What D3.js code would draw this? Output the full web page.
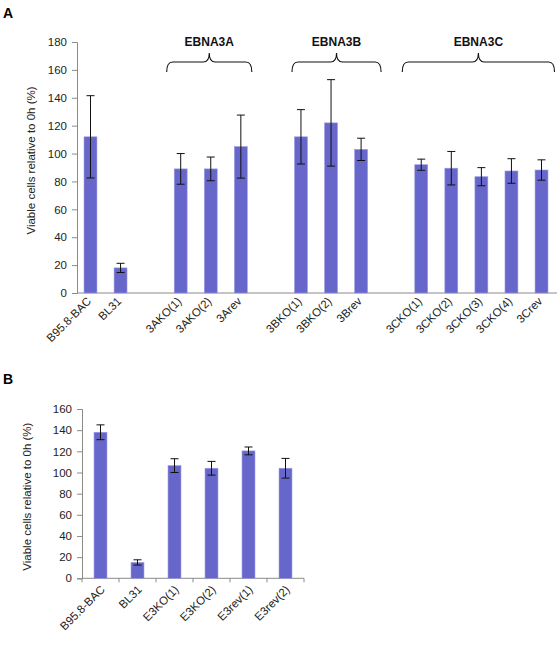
<!DOCTYPE html>
<html><head><meta charset="utf-8">
<script src="https://cdn.jsdelivr.net/npm/d3@7"></script>
<style>body{margin:0;background:#fff}svg{display:block;font-family:"Liberation Sans",Arial,sans-serif}</style>
</head><body>
<svg id="c" width="560" height="650"></svg>
<script>
// Panel A data
const catsA = ["B95.8-BAC","BL31","gap1","3AKO(1)","3AKO(2)","3Arev","gap2","3BKO(1)","3BKO(2)","3Brev","gap3","3CKO(1)","3CKO(2)","3CKO(3)","3CKO(4)","3Crev"];
const valsA = [112,18,null,89,89,105,null,112,122,103,null,92,89.5,83.4,87.5,88.2];
const errA  = [29.5,3.3,null,11,8.5,22.6,null,19.5,31,8,null,4,12,6.5,8.8,7.3];
const groupsA = [
  {label:"EBNA3A", first:"3AKO(1)", last:"3Arev"},
  {label:"EBNA3B", first:"3BKO(1)", last:"3Brev"},
  {label:"EBNA3C", first:"3CKO(1)", last:"3Crev"}
];
const ticksA = [0,20,40,60,80,100,120,140,160,180];
// Panel B data
const catsB = ["B95.8-BAC","BL31","E3KO(1)","E3KO(2)","E3rev(1)","E3rev(2)"];
const valsB = [138,15,106.5,104,120.4,104];
const errB  = [7,2.5,6.5,6.5,3.7,9.3];
const ticksB = [0,20,40,60,80,100,120,140,160];
const yLabel = "Viable cells relative to 0h (%)";

const svg = d3.select("#c");
const barFill = "#6767cb", barEdge = "#9c9ce2", axisCol = "#8a8a8a";
const fs = 11.5;

// ---------- Panel A ----------
const xA = d3.scaleBand().domain(catsA).range([75,557]).paddingInner(0.57).paddingOuter(0.3);
const yA = d3.scaleLinear().domain([0,180]).range([293,42]);
const gA = svg.append("g");
gA.append("text").attr("x",3).attr("y",18).attr("font-size",14).attr("font-weight","bold").text("A");
const axA = gA.append("g").attr("transform","translate(77,0)")
  .call(d3.axisLeft(yA).tickValues(ticksA).tickSize(5).tickPadding(5));
axA.select(".domain").attr("stroke",axisCol);
axA.selectAll(".tick line").attr("stroke",axisCol);
axA.selectAll("text").attr("font-size",fs).attr("fill","#222").attr("font-family","Liberation Sans, Arial");
gA.append("line").attr("x1",77).attr("x2",557).attr("y1",yA(0)).attr("y2",yA(0)).attr("stroke",axisCol);
gA.append("text").attr("transform",`translate(35,${(yA(0)+yA(180))/2-7}) rotate(-90)`)
  .attr("text-anchor","middle").attr("font-size",fs).attr("fill","#222").text(yLabel);

const dA = catsA.map((c,i)=>({c,v:valsA[i],e:errA[i]})).filter(d=>d.v!==null);
gA.selectAll("rect.bar").data(dA).join("rect").attr("class","bar")
  .attr("x",d=>xA(d.c)).attr("width",xA.bandwidth())
  .attr("y",d=>yA(d.v)).attr("height",d=>yA(0)-yA(d.v))
  .attr("fill",barFill).attr("stroke",barEdge).attr("stroke-width",0.6);
function errBars(g,data,x,y){
  const cap=4;
  const eg=g.selectAll("g.err").data(data).join("g").attr("class","err").attr("stroke","#111").attr("stroke-width",1);
  eg.append("line").attr("x1",d=>x(d.c)+x.bandwidth()/2).attr("x2",d=>x(d.c)+x.bandwidth()/2)
    .attr("y1",d=>y(d.v+d.e)).attr("y2",d=>y(d.v-d.e));
  eg.append("line").attr("x1",d=>x(d.c)+x.bandwidth()/2-cap).attr("x2",d=>x(d.c)+x.bandwidth()/2+cap)
    .attr("y1",d=>y(d.v+d.e)).attr("y2",d=>y(d.v+d.e));
  eg.append("line").attr("x1",d=>x(d.c)+x.bandwidth()/2-cap).attr("x2",d=>x(d.c)+x.bandwidth()/2+cap)
    .attr("y1",d=>y(d.v-d.e)).attr("y2",d=>y(d.v-d.e));
}
errBars(gA,dA,xA,yA);
gA.selectAll("text.xl").data(dA).join("text").attr("class","xl")
  .attr("transform",d=>`translate(${xA(d.c)+xA.bandwidth()/2+1.5},${yA(0)+9}) rotate(-45)`)
  .attr("text-anchor","end").attr("font-size",fs).attr("fill","#222").text(d=>d.c);

// braces
const bracePad = [[-14,11],[-9,20],[-19,13]];
groupsA.forEach((g,i)=>{
  const x1 = xA(g.first)+xA.bandwidth()/2+bracePad[i][0];
  const x2 = xA(g.last)+xA.bandwidth()/2+bracePad[i][1];
  const cx = (x1+x2)/2, yTip=53, yMid=62, yEnd=72, r=6;
  const p = `M${x1},${yEnd} Q${x1},${yMid} ${x1+r},${yMid} L${cx-r},${yMid} Q${cx},${yMid} ${cx},${yTip} Q${cx},${yMid} ${cx+r},${yMid} L${x2-r},${yMid} Q${x2},${yMid} ${x2},${yEnd}`;
  gA.append("path").attr("d",p).attr("fill","none").attr("stroke","#111").attr("stroke-width",1.1);
  gA.append("text").attr("x",cx).attr("y",46).attr("text-anchor","middle")
    .attr("font-size",12).attr("font-weight","bold").attr("fill","#111").text(g.label);
});

// ---------- Panel B ----------
const xB = d3.scaleBand().domain(catsB).range([82,304]).paddingInner(0.65).paddingOuter(0.325);
const yB = d3.scaleLinear().domain([0,160]).range([578.3,409]);
const gB = svg.append("g");
gB.append("text").attr("x",3).attr("y",384).attr("font-size",14).attr("font-weight","bold").text("B");
const axB = gB.append("g").attr("transform","translate(82,0)")
  .call(d3.axisLeft(yB).tickValues(ticksB).tickSize(5).tickPadding(5));
axB.select(".domain").attr("stroke",axisCol);
axB.selectAll(".tick line").attr("stroke",axisCol);
axB.selectAll("text").attr("font-size",fs).attr("fill","#222").attr("font-family","Liberation Sans, Arial");
gB.append("line").attr("x1",82).attr("x2",304).attr("y1",yB(0)).attr("y2",yB(0)).attr("stroke",axisCol);
const bounds = catsB.map(c=>xB(c)-xB.step()*xB.paddingInner()/2).concat([304]);
bounds[0]=82;
gB.selectAll("line.xt").data(bounds).join("line").attr("class","xt")
  .attr("x1",d=>d).attr("x2",d=>d).attr("y1",yB(0)).attr("y2",yB(0)+4).attr("stroke",axisCol);
gB.append("text").attr("transform",`translate(31,${(yB(0)+yB(160))/2+3}) rotate(-90)`)
  .attr("text-anchor","middle").attr("font-size",fs).attr("fill","#222").text(yLabel);
const dB = catsB.map((c,i)=>({c,v:valsB[i],e:errB[i]}));
gB.selectAll("rect.bar").data(dB).join("rect").attr("class","bar")
  .attr("x",d=>xB(d.c)).attr("width",xB.bandwidth())
  .attr("y",d=>yB(d.v)).attr("height",d=>yB(0)-yB(d.v))
  .attr("fill",barFill).attr("stroke",barEdge).attr("stroke-width",0.6);
errBars(gB,dB,xB,yB);
gB.selectAll("text.xl").data(dB).join("text").attr("class","xl")
  .attr("transform",d=>`translate(${xB(d.c)+xB.bandwidth()/2+5},${yB(0)+12}) rotate(-45)`)
  .attr("text-anchor","end").attr("font-size",fs).attr("fill","#222").text(d=>d.c);
</script>
</body></html>
